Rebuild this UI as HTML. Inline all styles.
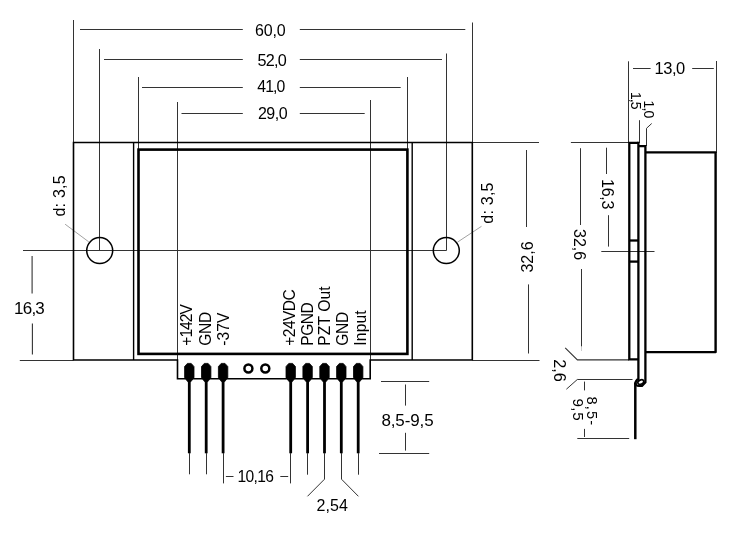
<!DOCTYPE html>
<html><head><meta charset="utf-8"><title>Dimensions</title>
<style>
html,body{margin:0;padding:0;background:#fff;}
body{width:750px;height:533px;overflow:hidden;}
svg{display:block;will-change:transform;}
svg text{font-family:"Liberation Sans",sans-serif;fill:#000;}
</style></head><body>
<svg width="750" height="533" viewBox="0 0 750 533">
<rect width="750" height="533" fill="#fff"/>
<line x1="73.5" y1="20" x2="73.5" y2="142" stroke="#333" stroke-width="1.0" />
<line x1="99.5" y1="49" x2="99.5" y2="250.5" stroke="#333" stroke-width="1.0" />
<line x1="138.5" y1="77" x2="138.5" y2="149.5" stroke="#333" stroke-width="1.0" />
<line x1="177.5" y1="102" x2="177.5" y2="360" stroke="#333" stroke-width="1.0" />
<line x1="370.5" y1="100" x2="370.5" y2="360" stroke="#333" stroke-width="1.0" />
<line x1="407.5" y1="77" x2="407.5" y2="149.5" stroke="#333" stroke-width="1.0" />
<line x1="446.5" y1="53.5" x2="446.5" y2="250.5" stroke="#333" stroke-width="1.0" />
<line x1="472.5" y1="22.5" x2="472.5" y2="142" stroke="#333" stroke-width="1.0" />
<line x1="80" y1="29.5" x2="242.8" y2="29.5" stroke="#333" stroke-width="1.0" />
<line x1="299.8" y1="29.5" x2="465.3" y2="29.5" stroke="#333" stroke-width="1.0" />
<line x1="104" y1="59.5" x2="242.8" y2="59.5" stroke="#333" stroke-width="1.0" />
<line x1="299.8" y1="59.5" x2="442" y2="59.5" stroke="#333" stroke-width="1.0" />
<line x1="142" y1="87.5" x2="242.8" y2="87.5" stroke="#333" stroke-width="1.0" />
<line x1="299.8" y1="87.5" x2="400.7" y2="87.5" stroke="#333" stroke-width="1.0" />
<line x1="181.5" y1="113.5" x2="242.8" y2="113.5" stroke="#333" stroke-width="1.0" />
<line x1="299.8" y1="113.5" x2="364.7" y2="113.5" stroke="#333" stroke-width="1.0" />
<line x1="23" y1="250.5" x2="446.5" y2="250.5" stroke="#333" stroke-width="1.0" />
<line x1="32.1" y1="256" x2="32.1" y2="293.5" stroke="#333" stroke-width="1.1" />
<line x1="32.4" y1="323.6" x2="32.4" y2="354.6" stroke="#333" stroke-width="1.1" />
<line x1="19.8" y1="360.5" x2="73.5" y2="360.5" stroke="#333" stroke-width="1.0" />
<line x1="472.5" y1="142.5" x2="539" y2="142.5" stroke="#333" stroke-width="1.0" />
<line x1="472.5" y1="360.5" x2="539.5" y2="360.5" stroke="#333" stroke-width="1.0" />
<line x1="526.5" y1="150" x2="526.5" y2="227" stroke="#333" stroke-width="1.0" />
<line x1="528.5" y1="284.4" x2="528.5" y2="353.5" stroke="#333" stroke-width="1.0" />
<line x1="65.1" y1="224.2" x2="88.8" y2="241.9" stroke="#8a8a8a" stroke-width="0.8" />
<line x1="457.4" y1="242.2" x2="481.5" y2="226.3" stroke="#8a8a8a" stroke-width="0.8" />
<line x1="381" y1="381.5" x2="429.2" y2="381.5" stroke="#333" stroke-width="1.0" />
<line x1="379" y1="453.5" x2="429.2" y2="453.5" stroke="#333" stroke-width="1.0" />
<line x1="405.5" y1="384.5" x2="405.5" y2="405.6" stroke="#333" stroke-width="1.0" />
<line x1="405.5" y1="432.8" x2="405.5" y2="450.6" stroke="#333" stroke-width="1.0" />
<line x1="225.9" y1="476.5" x2="233.5" y2="476.5" stroke="#333" stroke-width="1.0" />
<line x1="280.3" y1="476.5" x2="288.2" y2="476.5" stroke="#333" stroke-width="1.0" />
<path d="M73.5 142.5 H472.3 V360 H370.2 V378.7 H177.5 V360 H73.5 Z" fill="none" stroke="#000" stroke-width="1.6"/>
<line x1="133.6" y1="142.5" x2="133.6" y2="360" stroke="#000" stroke-width="1.4" />
<line x1="412.2" y1="142.5" x2="412.2" y2="360" stroke="#000" stroke-width="1.4" />
<rect x="138.5" y="149.6" width="268.9" height="204.3" fill="none" stroke="#000" stroke-width="2.6"/>
<circle cx="99.7" cy="250.6" r="13" fill="none" stroke="#000" stroke-width="1.5"/>
<circle cx="446.3" cy="250.6" r="13" fill="none" stroke="#000" stroke-width="1.5"/>
<path d="M187.4 363.4 H191.2 L194.0 366.6 V377.4 L191.0 381.6 H187.6 L184.6 377.4 V366.6 Z" fill="#000" stroke="#000" stroke-width="0.8" stroke-linejoin="round"/>
<line x1="189.3" y1="375" x2="189.3" y2="453.3" stroke="#000" stroke-width="2.8" />
<path d="M204.3 363.4 H208.1 L210.9 366.6 V377.4 L207.9 381.6 H204.5 L201.5 377.4 V366.6 Z" fill="#000" stroke="#000" stroke-width="0.8" stroke-linejoin="round"/>
<line x1="206.2" y1="375" x2="206.2" y2="453.3" stroke="#000" stroke-width="2.8" />
<path d="M221.2 363.4 H225.0 L227.8 366.6 V377.4 L224.8 381.6 H221.4 L218.4 377.4 V366.6 Z" fill="#000" stroke="#000" stroke-width="0.8" stroke-linejoin="round"/>
<line x1="223.1" y1="375" x2="223.1" y2="453.3" stroke="#000" stroke-width="2.8" />
<path d="M288.8 363.4 H292.6 L295.4 366.6 V377.4 L292.4 381.6 H289.0 L286.0 377.4 V366.6 Z" fill="#000" stroke="#000" stroke-width="0.8" stroke-linejoin="round"/>
<line x1="290.7" y1="375" x2="290.7" y2="453.3" stroke="#000" stroke-width="2.8" />
<path d="M305.7 363.4 H309.5 L312.3 366.6 V377.4 L309.3 381.6 H305.9 L302.9 377.4 V366.6 Z" fill="#000" stroke="#000" stroke-width="0.8" stroke-linejoin="round"/>
<line x1="307.6" y1="375" x2="307.6" y2="453.3" stroke="#000" stroke-width="2.8" />
<path d="M322.6 363.4 H326.4 L329.2 366.6 V377.4 L326.2 381.6 H322.8 L319.8 377.4 V366.6 Z" fill="#000" stroke="#000" stroke-width="0.8" stroke-linejoin="round"/>
<line x1="324.5" y1="375" x2="324.5" y2="453.3" stroke="#000" stroke-width="2.8" />
<path d="M339.4 363.4 H343.2 L346.0 366.6 V377.4 L343.0 381.6 H339.6 L336.6 377.4 V366.6 Z" fill="#000" stroke="#000" stroke-width="0.8" stroke-linejoin="round"/>
<line x1="341.3" y1="375" x2="341.3" y2="453.3" stroke="#000" stroke-width="2.8" />
<path d="M356.3 363.4 H360.1 L362.9 366.6 V377.4 L359.9 381.6 H356.5 L353.5 377.4 V366.6 Z" fill="#000" stroke="#000" stroke-width="0.8" stroke-linejoin="round"/>
<line x1="358.2" y1="375" x2="358.2" y2="453.3" stroke="#000" stroke-width="2.8" />
<circle cx="248.4" cy="368.5" r="4" fill="none" stroke="#000" stroke-width="2.5"/>
<circle cx="265.3" cy="368.5" r="4" fill="none" stroke="#000" stroke-width="2.5"/>
<line x1="189.5" y1="453" x2="189.5" y2="474.3" stroke="#333" stroke-width="1.0" />
<line x1="206.5" y1="453" x2="206.5" y2="474.3" stroke="#333" stroke-width="1.0" />
<line x1="223.5" y1="453" x2="223.5" y2="483.4" stroke="#333" stroke-width="1.0" />
<line x1="290.5" y1="453" x2="290.5" y2="483.4" stroke="#333" stroke-width="1.0" />
<line x1="307.5" y1="453" x2="307.5" y2="474.7" stroke="#333" stroke-width="1.0" />
<line x1="358.5" y1="453" x2="358.5" y2="474.7" stroke="#333" stroke-width="1.0" />
<path d="M324.5 453 V479.2 L307.5 496.3" fill="none" stroke="#333" stroke-width="1"/>
<path d="M341.5 453 V479.2 L358.4 496.3" fill="none" stroke="#333" stroke-width="1"/>
<line x1="628.5" y1="61.3" x2="628.5" y2="143" stroke="#333" stroke-width="1.0" />
<line x1="716.5" y1="61" x2="716.5" y2="153" stroke="#333" stroke-width="1.0" />
<line x1="633" y1="68.5" x2="650.6" y2="68.5" stroke="#333" stroke-width="1.0" />
<line x1="692.2" y1="68.5" x2="713.8" y2="68.5" stroke="#333" stroke-width="1.0" />
<line x1="639.5" y1="120.2" x2="639.5" y2="143" stroke="#333" stroke-width="1.0" />
<path d="M651.7 123.5 L646.5 128.3 V146" fill="none" stroke="#333" stroke-width="1"/>
<line x1="570.9" y1="142.5" x2="629" y2="142.5" stroke="#333" stroke-width="1.0" />
<line x1="580.5" y1="148.2" x2="580.5" y2="225" stroke="#333" stroke-width="1.0" />
<line x1="581.5" y1="269" x2="581.5" y2="346.6" stroke="#333" stroke-width="1.0" />
<line x1="606.5" y1="147.7" x2="606.5" y2="174" stroke="#333" stroke-width="1.0" />
<line x1="608.5" y1="215.2" x2="608.5" y2="246.6" stroke="#333" stroke-width="1.0" />
<line x1="601.3" y1="251.5" x2="654.5" y2="251.5" stroke="#333" stroke-width="1.0" />
<path d="M565.2 347.8 L577.4 359.9 H629" fill="none" stroke="#333" stroke-width="1.1"/>
<line x1="581.5" y1="346.6" x2="581.5" y2="351" stroke="#ccc" stroke-width="1" />
<path d="M566.4 389.2 L577.3 379.5 H632.5" fill="none" stroke="#333" stroke-width="1"/>
<line x1="584.5" y1="381.6" x2="584.5" y2="390.4" stroke="#333" stroke-width="1.0" />
<line x1="584.5" y1="428.9" x2="584.5" y2="437" stroke="#333" stroke-width="1.0" />
<line x1="577.3" y1="438.5" x2="629.2" y2="438.5" stroke="#333" stroke-width="1.0" />
<path d="M638.4 359.4 H629.3 V142.9 H638.4" fill="none" stroke="#000" stroke-width="2.3"/>
<path d="M638.4 141.8 V379 Q635.6 380 635.3 384" fill="none" stroke="#000" stroke-width="2.3"/>
<path d="M638.4 146.2 H645.4 V382.2 L642 385.9 H639 Q635.6 385.9 635.3 383" fill="none" stroke="#000" stroke-width="2.3"/>
<path d="M645.4 152.4 H715.6 V352.1 H645.4" fill="none" stroke="#000" stroke-width="2.4" stroke-linejoin="round"/>
<line x1="629.3" y1="240.5" x2="638.5" y2="240.5" stroke="#000" stroke-width="2.3" />
<line x1="629.3" y1="261.6" x2="638.5" y2="261.6" stroke="#000" stroke-width="2.3" />
<ellipse cx="640.8" cy="382.1" rx="3.1" ry="2.1" transform="rotate(-22 640.8 382.1)" fill="#fff" stroke="#000" stroke-width="1.7"/>
<line x1="635.3" y1="382.5" x2="635.3" y2="439.2" stroke="#000" stroke-width="2.5" />
<text x="255.1" y="36.0" font-size="16" textLength="30.5" lengthAdjust="spacing" text-anchor="start">60,0</text>
<text x="257.4" y="65.5" font-size="16.2" textLength="29.4" lengthAdjust="spacing" text-anchor="start">52,0</text>
<text x="257.3" y="92.4" font-size="15.8" textLength="27.9" lengthAdjust="spacing" text-anchor="start">41,0</text>
<text x="257.9" y="119.0" font-size="16" textLength="29.7" lengthAdjust="spacing" text-anchor="start">29,0</text>
<text x="654.6" y="73.7" font-size="16.5" textLength="30.6" lengthAdjust="spacing" text-anchor="start">13,0</text>
<text x="14.0" y="313.7" font-size="17" textLength="30.8" lengthAdjust="spacing" text-anchor="start">16,3</text>
<text x="237.5" y="481.8" font-size="15.6" textLength="36.5" lengthAdjust="spacing" text-anchor="start">10,16</text>
<text x="316.6" y="510.8" font-size="16" textLength="31.2" lengthAdjust="spacing" text-anchor="start">2,54</text>
<text x="381.4" y="425.6" font-size="17" textLength="52.3" lengthAdjust="spacing" text-anchor="start">8,5-9,5</text>
<text transform="translate(64.9 216.6) rotate(-90)" font-size="16" textLength="41.2" lengthAdjust="spacing" text-anchor="start">d: 3,5</text>
<text transform="translate(493.3 223.7) rotate(-90)" font-size="16" textLength="41.2" lengthAdjust="spacing" text-anchor="start">d: 3,5</text>
<text transform="translate(532.7 272.6) rotate(-90)" font-size="16" textLength="31.2" lengthAdjust="spacing" text-anchor="start">32,6</text>
<text transform="translate(574.3 229.0) rotate(90)" font-size="16" textLength="31.2" lengthAdjust="spacing" text-anchor="start">32,6</text>
<text transform="translate(602.0 179.0) rotate(90)" font-size="16" textLength="30.4" lengthAdjust="spacing" text-anchor="start">16,3</text>
<text transform="translate(630.6 92.0) rotate(90)" font-size="14" textLength="17.6" lengthAdjust="spacing" text-anchor="start">1,5</text>
<text transform="translate(644.2 100.6) rotate(90)" font-size="14" textLength="17.6" lengthAdjust="spacing" text-anchor="start">1,0</text>
<text transform="translate(553.5 359.2) rotate(90)" font-size="16.3" textLength="22.6" lengthAdjust="spacing" text-anchor="start">2,6</text>
<text transform="translate(587.4 396.4) rotate(90)" font-size="14.5" textLength="28.8" lengthAdjust="spacing" text-anchor="start">8,5-</text>
<text transform="translate(573.2 398.4) rotate(90)" font-size="15.2" textLength="22.2" lengthAdjust="spacing" text-anchor="start">9,5</text>
<text transform="translate(191.6 345.7) rotate(-90)" font-size="15.6" textLength="41.5" lengthAdjust="spacing" text-anchor="start">+142V</text>
<text transform="translate(210.9 345.7) rotate(-90)" font-size="15.6" textLength="34" lengthAdjust="spacing" text-anchor="start">GND</text>
<text transform="translate(228.7 345.7) rotate(-90)" font-size="15.6" textLength="33" lengthAdjust="spacing" text-anchor="start">-37V</text>
<text transform="translate(295.4 345.7) rotate(-90)" font-size="15.6" textLength="56.5" lengthAdjust="spacing" text-anchor="start">+24VDC</text>
<text transform="translate(312.7 345.7) rotate(-90)" font-size="15.6" textLength="43.5" lengthAdjust="spacing" text-anchor="start">PGND</text>
<text transform="translate(329.7 345.7) rotate(-90)" font-size="15.6" textLength="59.2" lengthAdjust="spacing" text-anchor="start">PZT Out</text>
<text transform="translate(347.6 345.7) rotate(-90)" font-size="15.6" textLength="34" lengthAdjust="spacing" text-anchor="start">GND</text>
<text transform="translate(365.8 345.7) rotate(-90)" font-size="15.6" textLength="35.4" lengthAdjust="spacing" text-anchor="start">Input</text>
</svg>
</body></html>
